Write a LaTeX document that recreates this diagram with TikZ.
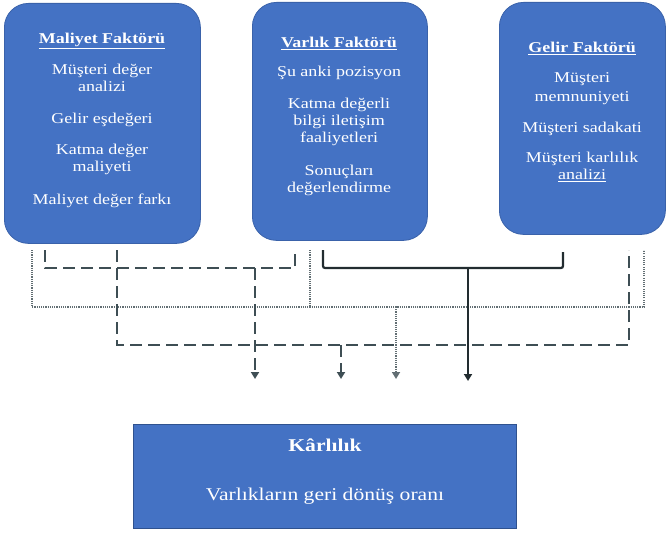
\documentclass[tikz,border=0pt]{standalone}
\usepackage{fontspec}
\setmainfont[FakeStretch=1.2]{Liberation Serif}
\usetikzlibrary{arrows.meta}

\definecolor{boxblue}{RGB}{68,114,196}
\definecolor{boxedge}{RGB}{58,98,170}
\definecolor{frameblue}{RGB}{47,82,143}
\definecolor{dashcol}{RGB}{62,78,84}
\definecolor{solidcol}{RGB}{34,44,48}
\definecolor{dotcol}{RGB}{98,110,115}

\tikzset{
  factor/.style={draw=boxedge, line width=0.8pt, fill=boxblue,
    rounded corners=24pt, anchor=north west, inner sep=0pt},
  result/.style={draw=frameblue, line width=1pt, fill=boxblue,
    anchor=north west, inner sep=0pt},
  boxtext/.style={text=white, align=center, inner sep=0pt,
    font=\fontsize{15}{17}\selectfont},
  bigtext/.style={text=white, align=center, inner sep=0pt,
    font=\fontsize{18}{20}\selectfont},
  tip/.style={-{Triangle[width=8pt,length=7pt]}},
  dotline/.style={draw=dotcol, line width=1.7pt, dash pattern=on 1.1pt off 1.1pt},
  dashline/.style={draw=dashcol, line width=2.2pt, dash pattern=on 12pt off 6pt},
  solidline/.style={draw=solidcol, line width=2.2pt},
}

\begin{document}
\begin{tikzpicture}[x=1pt, y=-1pt]
  \useasboundingbox (0,0) rectangle (668,535);

  % factor boxes
  \node[factor, minimum width=196pt, minimum height=240pt] (maliyet) at (4,3) {};
  \node[factor, minimum width=175pt, minimum height=238pt] (varlik) at (252,2) {};
  \node[factor, minimum width=166pt, minimum height=232pt] (gelir) at (499,2) {};
  \node[result, minimum width=383pt, minimum height=104pt] (karlilik) at (133,424) {};

  % box texts
  \node[boxtext, anchor=north] (maliyetText) at (102,33)
    {\textbf{\underline{Maliyet Faktörü}}\\[14pt]
     Müşteri değer\\ analizi\\[15pt]
     Gelir eşdeğeri\\[14pt]
     Katma değer\\ maliyeti\\[16pt]
     Maliyet değer farkı};
  \node[boxtext, anchor=north] (varlikText) at (339,37)
    {\textbf{\underline{Varlık Faktörü}}\\[12pt]
     Şu anki pozisyon\\[15pt]
     Katma değerli\\ bilgi iletişim\\ faaliyetleri\\[16pt]
     Sonuçları\\ değerlendirme};
  \node[boxtext, anchor=north] (gelirText) at (582,42)
    {\textbf{\underline{Gelir Faktörü}}\\[13pt]
     Müşteri\\[2pt] memnuniyeti\\[14pt]
     Müşteri sadakati\\[13pt]
     Müşteri karlılık\\ \underline{analizi}};
  \node[bigtext, anchor=north] (karlilikTitle) at (325,439) {\textbf{Kârlılık}};
  \node[bigtext, anchor=north] (karlilikText) at (325,488) {Varlıkların geri dönüş oranı};

  % connector end points
  \coordinate (mDot) at (32,250);
  \coordinate (vDot) at (310,250);
  \coordinate (gDot) at (644,250);
  \coordinate (dotBus) at (396,307);
  \coordinate (dotEnd) at (396,379);

  \coordinate (mDashA) at (45,250);
  \coordinate (vDashA) at (295,250);
  \coordinate (dashBusA) at (255,268);
  \coordinate (dashEndA) at (255,379);

  \coordinate (mDashB) at (117,250);
  \coordinate (gDashB) at (629,250);
  \coordinate (dashBusB) at (341,345);
  \coordinate (dashEndB) at (341,379);

  \coordinate (vSolid) at (323,250);
  \coordinate (gSolid) at (563,252);
  \coordinate (solidBus) at (468,268);
  \coordinate (solidEnd) at (468,381);

  % dotted route
  \draw[dotline] (mDot) |- (dotBus) -| (gDot);
  \draw[dotline] (vDot) -- (vDot |- dotBus);
  \draw[dotline, tip] (dotBus) -- (dotEnd);

  % short dashed route
  \draw[dashline] (mDashA) |- (dashBusA) -| (vDashA);
  \draw[dashline, tip] (dashBusA) -- (dashEndA);

  % long dashed route
  \draw[dashline] (mDashB) |- (dashBusB) -| (gDashB);
  \draw[dashline, tip] (dashBusB) -- (dashEndB);

  % solid route
  \draw[solidline, rounded corners=2pt] (vSolid) |- (solidBus) -| (gSolid);
  \draw[solidline, tip] (solidBus) -- (solidEnd);
\end{tikzpicture}
\end{document}
